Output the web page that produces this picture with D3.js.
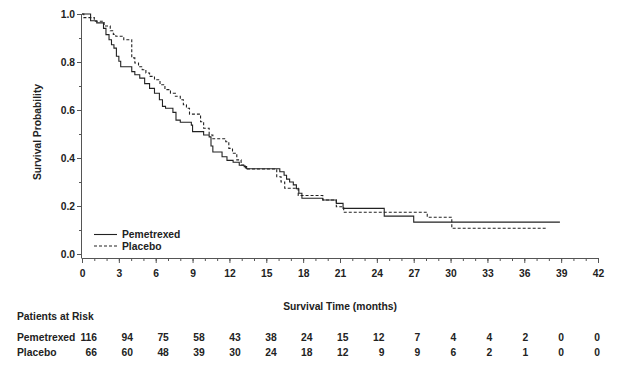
<!DOCTYPE html>
<html>
<head>
<meta charset="utf-8">
<script src="https://cdn.jsdelivr.net/npm/d3@7"></script>
<style>
    body { margin: 0; background: #fff; }
    text { font-family: "Liberation Sans", Arial, sans-serif; font-weight: bold; fill: #222; }
    .axis path, .axis line { stroke: #555; }
</style>
</head>
<body>
<div class="svg-container"></div>
<script>
// Kaplan-Meier step data (time in months, survival probability)
var pemTime = [0, 0.7, 1.2, 1.75, 1.95, 2.2, 2.4, 2.6, 2.8, 3.0, 3.15, 4.05, 4.3, 4.7, 5.1, 5.5, 5.9, 6.3, 6.55, 6.8,
    7.4, 7.65, 8.0, 8.9, 9.0, 9.9, 10.35, 10.5, 10.65, 11.4, 11.8, 12.3, 12.8, 13.2, 13.4, 16.1, 16.45, 16.65, 16.9, 17.2,
    17.45, 17.65, 17.9, 19.6, 20.7, 21.25, 24.6, 27.0];
var pemSurv = [1.0, 0.972, 0.963, 0.94, 0.914, 0.893, 0.872, 0.858, 0.824, 0.803, 0.78, 0.76, 0.747, 0.733, 0.71, 0.69, 0.67, 0.643, 0.615, 0.607,
    0.59, 0.558, 0.549, 0.537, 0.51, 0.496, 0.488, 0.45, 0.425, 0.405, 0.39, 0.382, 0.37, 0.364, 0.355, 0.343, 0.328, 0.312, 0.30, 0.288,
    0.272, 0.253, 0.232, 0.225, 0.211, 0.19, 0.158, 0.133];
var pemEnd = 38.9;

var plaTime = [0, 0.15, 1.0, 1.8, 2.3, 2.55, 2.75, 3.4, 4.05, 4.3, 4.6, 4.9, 5.2, 5.5, 5.9, 6.35, 6.75, 7.2, 7.6, 8.0,
    8.25, 8.5, 8.75, 9.65, 9.9, 10.35, 10.65, 11.7, 11.95, 12.25, 12.6, 12.95, 13.3, 15.85, 16.2, 16.5, 17.6, 19.6, 20.7, 21.3,
    28.1, 30.1];
var plaSurv = [1.0, 0.985, 0.97, 0.95, 0.93, 0.915, 0.907, 0.893, 0.817, 0.796, 0.78, 0.768, 0.754, 0.74, 0.726, 0.705, 0.685, 0.67, 0.657, 0.643,
    0.622, 0.607, 0.583, 0.551, 0.524, 0.496, 0.48, 0.468, 0.44, 0.42, 0.392, 0.371, 0.354, 0.322, 0.30, 0.274, 0.244, 0.225, 0.197, 0.174,
    0.153, 0.107];
var plaEnd = 37.8;

// patients at risk table
var riskTimes = [0, 3, 6, 9, 12, 15, 18, 21, 24, 27, 30, 33, 36, 39, 42];
var pemRisk = [116, 94, 75, 58, 43, 38, 24, 15, 12, 7, 4, 4, 2, 0, 0];
var plaRisk = [66, 60, 48, 39, 30, 24, 18, 12, 9, 9, 6, 2, 1, 0, 0];

var seriesNames = ["Pemetrexed", "Placebo"];

var fontSize = "10.3px";

// set up margin
var margin = {top: 14, right: 26, bottom: 111, left: 82},
    width = 624 - margin.left - margin.right,
    height = 365 - margin.top - margin.bottom;

var svg = d3.select(".svg-container").append("svg")
    .attr("width", 624)
    .attr("height", 365);

var g = svg.append("g")
    .attr("transform", "translate(" + margin.left + "," + margin.top + ")");

var xScale = d3.scaleLinear().domain([0, 42]).range([0, width]),
    yScale = d3.scaleLinear().domain([0, 1]).range([height, 0]);

var axisGap = 4; // x axis sits a little below 0.0

// minor ticks first, then major with labels
g.append("g")
    .attr("class", "axis")
    .attr("transform", "translate(0," + (height + axisGap) + ")")
    .call(d3.axisBottom(xScale).tickValues(d3.range(0, 43, 1)).tickSize(3).tickFormat(""));

g.append("g")
    .attr("class", "axis axis--x")
    .attr("transform", "translate(0," + (height + axisGap) + ")")
    .call(d3.axisBottom(xScale).tickValues(d3.range(0, 43, 3)).tickSize(5).tickPadding(7))
    .call(function (a) { a.selectAll("text").style("font-size", fontSize); });

g.append("g")
    .attr("class", "axis")
    .call(d3.axisLeft(yScale).tickValues(d3.range(0, 1.01, 0.1)).tickSize(3).tickFormat(""))
    .call(function (a) { a.select(".domain").remove(); });

g.append("g")
    .attr("class", "axis axis--y")
    .call(d3.axisLeft(yScale).tickValues([0, 0.2, 0.4, 0.6, 0.8, 1.0]).tickSize(5).tickPadding(2).tickFormat(d3.format(".1f")))
    .call(function (a) {
        a.select(".domain").attr("d", "M-0.5,0.5V" + (height + axisGap + 0.5));
        a.selectAll("text").style("font-size", fontSize);
    });

// axis titles
g.append("text")
    .attr("x", width / 2)
    .attr("y", height + 52)
    .attr("dy", "0.35em")
    .style("text-anchor", "middle")
    .style("font-size", fontSize)
    .text("Survival Time (months)");

g.append("text")
    .attr("transform", "rotate(-90)")
    .attr("x", -height / 2 + 2)
    .attr("y", -41)
    .style("text-anchor", "middle")
    .style("font-size", fontSize)
    .text("Survival Probability");

// step lines
var line = d3.line()
    .curve(d3.curveStepAfter)
    .x(function (d) { return xScale(d[0]); })
    .y(function (d) { return yScale(d[1]); });

function toSteps(times, surv, end) {
    var pts = times.map(function (t, i) { return [t, surv[i]]; });
    pts.push([end, surv[surv.length - 1]]);
    return pts;
}

var curves = [
    {name: seriesNames[0], values: toSteps(pemTime, pemSurv, pemEnd), dash: null},
    {name: seriesNames[1], values: toSteps(plaTime, plaSurv, plaEnd), dash: "3,2"}
];

g.selectAll(".km")
    .data(curves)
    .enter().append("path")
    .attr("class", "km")
    .attr("d", function (d) { return line(d.values); })
    .attr("fill", "none")
    .attr("stroke", "#222")
    .attr("stroke-width", 1.1)
    .attr("stroke-dasharray", function (d) { return d.dash; });

// legend
var legend = g.selectAll(".legend")
    .data(curves)
    .enter().append("g")
    .attr("class", "legend")
    .attr("transform", function (d, i) { return "translate(12," + (220.5 + i * 11.5) + ")"; });

legend.append("line")
    .attr("x1", 0).attr("x2", 23)
    .attr("stroke", "#222")
    .attr("stroke-width", 1.1)
    .attr("stroke-dasharray", function (d) { return d.dash; });

legend.append("text")
    .attr("x", 28)
    .attr("dy", "0.35em")
    .style("font-size", fontSize)
    .text(function (d) { return d.name; });

// patients at risk
var tScale = d3.scaleLinear().domain([0, 42]).range([97, 600]);

svg.append("text")
    .attr("x", 17)
    .attr("y", 316)
    .attr("dy", "0.35em")
    .style("font-size", fontSize)
    .text("Patients at Risk");

var rows = [
    {name: seriesNames[0], counts: pemRisk, y: 337},
    {name: seriesNames[1], counts: plaRisk, y: 352}
];

var row = svg.selectAll(".risk-row")
    .data(rows)
    .enter().append("g")
    .attr("class", "risk-row")
    .attr("transform", function (d) { return "translate(0," + d.y + ")"; });

row.append("text")
    .attr("x", 17)
    .attr("dy", "0.35em")
    .style("font-size", fontSize)
    .text(function (d) { return d.name; });

row.selectAll(".count")
    .data(function (d) { return d.counts; })
    .enter().append("text")
    .attr("class", "count")
    .attr("x", function (d, i) { return tScale(riskTimes[i]); })
    .attr("dy", "0.35em")
    .style("text-anchor", "end")
    .style("font-size", fontSize)
    .text(function (d) { return d; });
</script>
</body>
</html>
